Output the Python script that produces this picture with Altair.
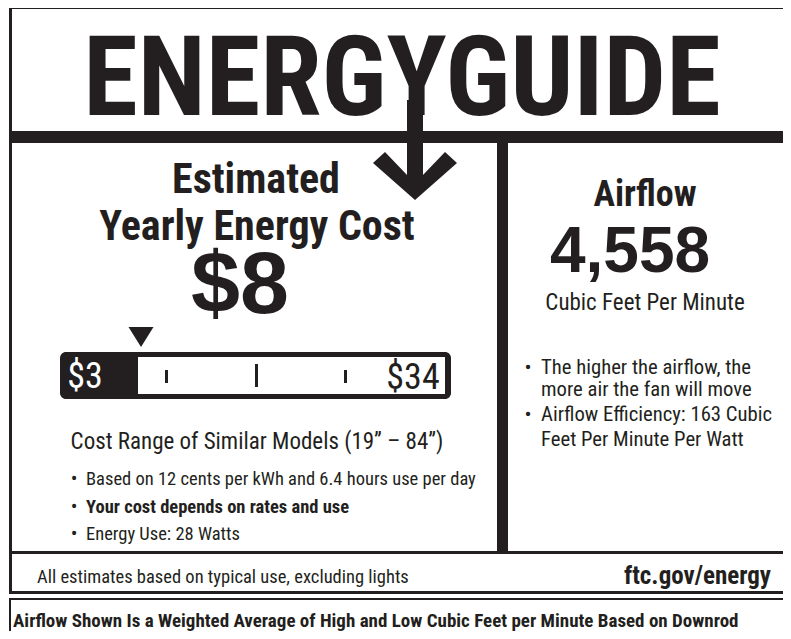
import altair as alt
import pandas as pd

# ---------------- data (label content) ----------------
title_text = "ENERGYGUIDE"
cost_heading = ["Estimated", "Yearly Energy Cost"]
yearly_cost = 8
cost_low = 3
cost_high = 34
range_caption = "Cost Range of Similar Models (19\u201d \u2013 84\u201d)"
left_bullets = [
    "Based on 12 cents per kWh and 6.4 hours use per day",
    "Your cost depends on rates and use",
    "Energy Use: 28 Watts",
]
left_bullet_bold = [False, True, False]
airflow_heading = "Airflow"
airflow_cfm = 4558
airflow_unit = "Cubic Feet Per Minute"
right_bullet_lines = [
    "The higher the airflow, the",
    "more air the fan will move",
    "Airflow Efficiency: 163 Cubic",
    "Feet Per Minute Per Watt",
]
right_bullet_marks = [True, False, True, False]
footer_left = "All estimates based on typical use, excluding lights"
footer_right = "ftc.gov/energy"
note = "Airflow Shown Is a Weighted Average of High and Low Cubic Feet per Minute Based on Downrod"

# ---------------- layout (page pixel coordinates) ----------------
W, H = 775, 623
X0, Y0 = 8, 8
INK = "#231f20"
NARROW = "Roboto Condensed, Liberation Sans, sans-serif"
WIDE = "Liberation Sans, Arial, sans-serif"

xs = alt.Scale(domain=[X0, X0 + W], nice=False, zero=False)
ys = alt.Scale(domain=[Y0, Y0 + H], nice=False, zero=False, reverse=True)

rects = pd.DataFrame(
    [
        (9, 791, 6, 9, INK),        # top border
        (9, 12, 6, 594, INK),       # left border
        (9, 791, 131, 143, INK),    # thick bar under title
        (407, 423, 100, 176, INK),  # arrow stem
        (497, 508, 143, 553, INK),  # vertical divider
        (9, 791, 551, 554, INK),    # line above footer
        (9, 791, 591, 594, INK),    # bottom of main box
        (9, 791, 598, 600, INK),    # top of note box
        (9, 11, 598, 640, INK),     # left of note box
        (138, 445, 357, 394, "white"),  # inner white of range bar
        (165, 168, 370, 383, INK),  # ticks
        (255, 258, 364, 387, INK),
        (344, 347, 370, 383, INK),
    ],
    columns=["x", "x2", "y", "y2", "c"],
)


def enc_xy(ch):
    return ch.encode(
        x=alt.X("x:Q", scale=xs, axis=None),
        y=alt.Y("y:Q", scale=ys, axis=None),
    )


def text_layer(df, **mk):
    base = dict(color=INK, baseline="alphabetic")
    base.update(mk)
    return alt.Chart(df).mark_text(**base).encode(
        x=alt.X("x:Q", scale=xs, axis=None),
        y=alt.Y("y:Q", scale=ys, axis=None),
        text="t:N",
    )


range_bar = alt.Chart(pd.DataFrame({"x": [60], "x2": [451], "y": [352], "y2": [399]})).mark_rect(
    color=INK, cornerRadius=6
).encode(
    x=alt.X("x:Q", scale=xs, axis=None), x2="x2:Q",
    y=alt.Y("y:Q", scale=ys, axis=None), y2="y2:Q",
)

rect_layer = alt.Chart(rects).mark_rect().encode(
    x=alt.X("x:Q", scale=xs, axis=None), x2="x2:Q",
    y=alt.Y("y:Q", scale=ys, axis=None), y2="y2:Q",
    color=alt.Color("c:N", scale=None),
)

chevron = enc_xy(alt.Chart(pd.DataFrame({"x": [415], "y": [176]})).mark_point(
    shape="M-1,-0.31L-0.714,-0.571L-0.19,-0.024L0.19,-0.024L0.714,-0.571L1,-0.31L0,0.571Z",
    size=7056, filled=True, color=INK, opacity=1, strokeWidth=0,
))

marker = enc_xy(alt.Chart(pd.DataFrame({"x": [141], "y": [337]})).mark_point(
    shape="M-1,-0.8L1,-0.8L0,0.8Z", size=625, filled=True, color=INK, opacity=1, strokeWidth=0,
))

title = text_layer(
    pd.DataFrame({"x": [402], "y": [115], "t": [title_text]}),
    font=NARROW, fontSize=111, fontWeight="bold", align="center",
)

heading = text_layer(
    pd.DataFrame({"x": [256, 257], "y": [193, 240], "t": cost_heading}),
    font=NARROW, fontSize=42, fontWeight="bold", align="center",
)

cost_txt = text_layer(
    pd.DataFrame({"x": [240], "y": [313], "t": [f"${yearly_cost}"]}),
    font=WIDE, fontSize=88, fontWeight="bold", align="center",
)

low_txt = text_layer(
    pd.DataFrame({"x": [85], "y": [388], "t": [f"${cost_low}"]}),
    font=NARROW, fontSize=36, align="center", color="white",
)
high_txt = text_layer(
    pd.DataFrame({"x": [413], "y": [389], "t": [f"${cost_high}"]}),
    font=NARROW, fontSize=36, align="center",
)

caption = text_layer(
    pd.DataFrame({"x": [257], "y": [449], "t": [range_caption]}),
    font=NARROW, fontSize=23, align="center",
)

lb_y = [485, 513, 540]
lb_df = pd.DataFrame({"x": [86] * 3, "y": lb_y, "t": left_bullets, "b": left_bullet_bold})
lb_regular = text_layer(lb_df[~lb_df.b], font=NARROW, fontSize=18.5, align="left")
lb_bold = text_layer(lb_df[lb_df.b], font=NARROW, fontSize=18.5, fontWeight="bold", align="left")
lb_dots = text_layer(
    pd.DataFrame({"x": [74] * 3, "y": lb_y, "t": ["\u2022"] * 3}),
    font=NARROW, fontSize=20, align="center",
)

air_head = text_layer(
    pd.DataFrame({"x": [645], "y": [206], "t": [airflow_heading]}),
    font=NARROW, fontSize=36, fontWeight="bold", align="center",
)
air_num = text_layer(
    pd.DataFrame({"x": [630], "y": [272], "t": [f"{airflow_cfm:,}"]}),
    font=WIDE, fontSize=64, fontWeight="bold", align="center",
)
air_unit = text_layer(
    pd.DataFrame({"x": [645], "y": [310], "t": [airflow_unit]}),
    font=NARROW, fontSize=23, align="center",
)

rb_y = [374, 396, 421, 446]
rb_text = text_layer(
    pd.DataFrame({"x": [541] * 4, "y": rb_y, "t": right_bullet_lines}),
    font=NARROW, fontSize=20.7, align="left",
)
rb_dots = text_layer(
    pd.DataFrame({
        "x": [528] * sum(right_bullet_marks),
        "y": [yy for yy, m in zip(rb_y, right_bullet_marks) if m],
        "t": ["\u2022"] * sum(right_bullet_marks),
    }),
    font=NARROW, fontSize=21, align="center",
)

foot_l = text_layer(
    pd.DataFrame({"x": [37], "y": [583], "t": [footer_left]}),
    font=NARROW, fontSize=18.5, align="left",
)
foot_r = text_layer(
    pd.DataFrame({"x": [771], "y": [584], "t": [footer_right]}),
    font=NARROW, fontSize=25, fontWeight="bold", align="right",
)
note_txt = text_layer(
    pd.DataFrame({"x": [13], "y": [627], "t": [note]}),
    font=NARROW, fontSize=19, fontWeight="bold", align="left",
)

chart = alt.layer(
    range_bar, rect_layer, chevron, marker, title, heading, cost_txt,
    low_txt, high_txt, caption, lb_regular, lb_bold, lb_dots,
    air_head, air_num, air_unit, rb_text, rb_dots, foot_l, foot_r, note_txt,
).properties(
    width=W, height=H, padding=0,
    autosize=alt.AutoSizeParams(type="none"),
).configure_view(stroke=None)

chart.save("out.html", embed_options={"renderer": "svg", "actions": False})
